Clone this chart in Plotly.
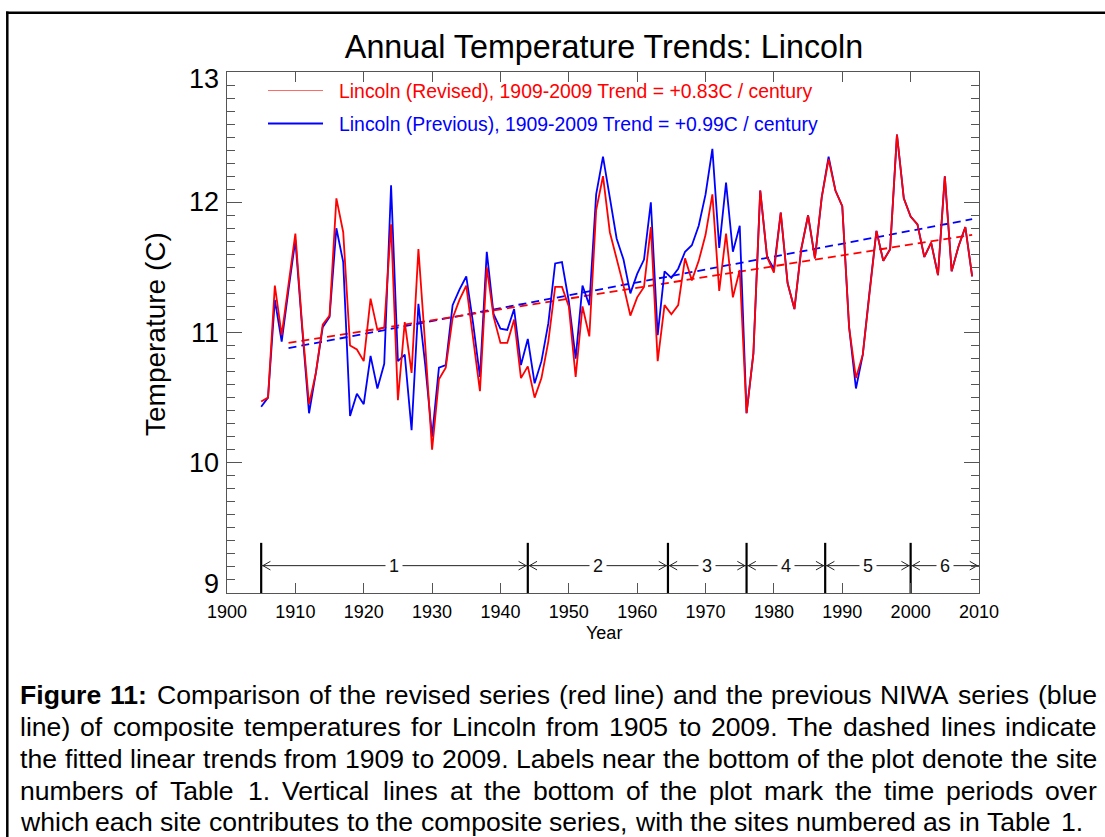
import plotly.graph_objects as go

# ---------------------------------------------------------------- data
years = list(range(1905, 2010))

revised = [
    10.47, 10.50, 11.36, 10.98, 11.37, 11.76, 11.05, 10.45, 10.69, 11.06,   # 1905-1914
    11.13, 12.03, 11.77, 10.90, 10.87, 10.78, 11.26, 11.02, 11.04, 11.83,   # 1915-1924
    10.48, 11.08, 10.69, 11.64, 10.90, 10.10, 10.64, 10.73, 11.11, 11.25,   # 1925-1934
    11.36, 10.97, 10.55, 11.50, 11.12, 10.92, 10.92, 11.10, 10.65, 10.74,   # 1935-1944
    10.50, 10.65, 10.93, 11.35, 11.35, 11.20, 10.66, 11.20, 10.97, 11.94,   # 1945-1954
    12.20, 11.77, 11.57, 11.36, 11.13, 11.27, 11.35, 11.81, 10.78, 11.21,   # 1955-1964
    11.14, 11.21, 11.57, 11.40, 11.55, 11.75, 12.06, 11.32, 11.76, 11.27,   # 1965-1974
    11.48, 10.38, 10.84, 12.09, 11.58, 11.46, 11.92, 11.38, 11.18, 11.64,   # 1975-1984
    11.90, 11.57, 12.04, 12.33, 12.09, 11.97, 11.04, 10.65, 10.83, 11.32,   # 1985-1994
    11.78, 11.55, 11.64, 12.52, 12.03, 11.89, 11.83, 11.58, 11.69, 11.44,   # 1995-2004
    12.20, 11.47, 11.66, 11.81, 11.43,                                      # 2005-2009
]

previous = [
    10.43, 10.50, 11.25, 10.93, 11.33, 11.71, 11.03, 10.38, 10.69, 11.04,   # 1905-1914
    11.12, 11.80, 11.54, 10.36, 10.53, 10.45, 10.82, 10.57, 10.76, 12.13,   # 1915-1924
    10.78, 10.83, 10.25, 11.22, 10.75, 10.20, 10.73, 10.75, 11.21, 11.33,   # 1925-1934
    11.43, 11.07, 10.66, 11.62, 11.14, 11.03, 11.02, 11.18, 10.75, 10.95,   # 1935-1944
    10.61, 10.78, 11.07, 11.53, 11.54, 11.24, 10.80, 11.36, 11.21, 12.06,   # 1945-1954
    12.35, 12.03, 11.72, 11.56, 11.30, 11.45, 11.56, 12.00, 10.98, 11.47,   # 1955-1964
    11.42, 11.49, 11.62, 11.67, 11.82, 12.06, 12.41, 11.65, 12.15, 11.62,   # 1965-1974
    11.82, 10.38, 10.84, 12.09, 11.58, 11.49, 11.92, 11.38, 11.18, 11.64,   # 1975-1984
    11.90, 11.57, 12.04, 12.35, 12.09, 11.97, 11.04, 10.57, 10.83, 11.32,   # 1985-1994
    11.78, 11.55, 11.64, 12.52, 12.03, 11.89, 11.83, 11.58, 11.69, 11.44,   # 1995-2004
    12.20, 11.47, 11.66, 11.81, 11.43,                                      # 2005-2009
]

series_names = ["Revised", "Previous"]
series_colors = ["#ff0000", "#0000ff"]
trend_years = [1909, 2009]
trend_slopes = [0.83, 0.99]          # degrees C per century
trend_at_start = [10.92, 10.88]      # fitted value in 1909

# site periods of the composite series
period_starts = [1905, 1944, 1964.5, 1976, 1987.5, 2000]
period_end = 2010
site_labels = ["1", "2", "3", "4", "5", "6"]

x_tick_vals = list(range(1900, 2011, 10))
y_tick_vals = [9, 10, 11, 12, 13]

caption_lines = [
    "Figure 11: Comparison of the revised series (red line) and the previous NIWA series (blue",
    "line) of composite temperatures for Lincoln from 1905 to 2009. The dashed lines indicate",
    "the fitted linear trends from 1909 to 2009. Labels near the bottom of the plot denote the site",
    "numbers of Table 1. Vertical lines at the bottom of the plot mark the time periods over",
    "which each site contributes to the composite series, with the sites numbered as in Table 1.",
]

# ---------------------------------------------------------------- geometry
FIG_W, FIG_H = 1105, 837
ML, MR, MT, MB = 227, 126, 72, 244
PW = FIG_W - ML - MR
PH = FIG_H - MT - MB
FONT = "Liberation Sans, Arial, Helvetica, sans-serif"
AXIS_COLOR = "#555555"


def px(x):
    return (x - ML) / PW


def py(y):
    return (FIG_H - MB - y) / PH


fig = go.Figure()

# fitted linear trends (dashed)
for name, color, slope, start in zip(series_names[::-1], series_colors[::-1],
                                     trend_slopes[::-1], trend_at_start[::-1]):
    ty = [start + slope * (yr - trend_years[0]) / 100.0 for yr in trend_years]
    fig.add_trace(go.Scatter(x=trend_years, y=ty, mode="lines",
                             line=dict(color=color, width=1.8, dash="8px,5px"),
                             showlegend=False, hoverinfo="skip"))

# annual series: previous underneath, revised on top
fig.add_trace(go.Scatter(x=years, y=previous, mode="lines",
                         line=dict(color=series_colors[1], width=1.8),
                         name=series_names[1], showlegend=False))
fig.add_trace(go.Scatter(x=years, y=revised, mode="lines",
                         line=dict(color=series_colors[0], width=1.8),
                         name=series_names[0], showlegend=False))

# site period markers along the bottom
bounds = period_starts + [period_end]
y_arrow = 9.21
y_bar_top = 9.385
dx, dy = 1.1, 0.033
gap_x = 0.25
vx, vy = [], []
for b in period_starts:
    vx += [b, b, None]
    vy += [9.0, y_bar_top, None]
fig.add_trace(go.Scatter(x=vx, y=vy, mode="lines",
                         line=dict(color="black", width=2.2),
                         showlegend=False, hoverinfo="skip"))

ax_, ay_ = [], []
for a, b in zip(bounds[:-1], bounds[1:]):
    ax_ += [a, b, None]
    ay_ += [y_arrow, y_arrow, None]
    ax_ += [a + gap_x + dx, a + gap_x, a + gap_x + dx, None]
    ay_ += [y_arrow + dy, y_arrow, y_arrow - dy, None]
    ax_ += [b - gap_x - dx, b - gap_x, b - gap_x - dx, None]
    ay_ += [y_arrow + dy, y_arrow, y_arrow - dy, None]
fig.add_trace(go.Scatter(x=ax_, y=ay_, mode="lines",
                         line=dict(color="#222222", width=1),
                         showlegend=False, hoverinfo="skip"))

annotations = []
for a, b, lab in zip(bounds[:-1], bounds[1:], site_labels):
    annotations.append(dict(x=(a + b) / 2, y=y_arrow, xref="x", yref="y",
                            xanchor="center", yanchor="middle",
                            text=lab, showarrow=False, bgcolor="white",
                            borderpad=3, font=dict(family=FONT, size=18, color="#111111")))

# y tick labels; the end labels sit just inside the axis range
for v in y_tick_vals:
    shift = -7 if v == y_tick_vals[-1] else (9 if v == y_tick_vals[0] else 0)
    annotations.append(dict(x=px(221), y=v, xref="paper", yref="y",
                            xanchor="right", yanchor="middle", yshift=shift,
                            text=str(v), showarrow=False,
                            font=dict(family=FONT, size=27, color="black")))

# legend: sample lines and texts
shapes = [
    dict(type="line", xref="paper", yref="paper", x0=px(268), x1=px(323),
         y0=py(90.5), y1=py(90.5), line=dict(color="#ff6a6a", width=1)),
    dict(type="line", xref="paper", yref="paper", x0=px(268), x1=px(323),
         y0=py(123.5), y1=py(123.5), line=dict(color=series_colors[1], width=2)),
    # page frame
    dict(type="line", xref="paper", yref="paper", x0=px(6), x1=px(1106),
         y0=py(12.7), y1=py(12.7), line=dict(color="black", width=2.5)),
    dict(type="line", xref="paper", yref="paper", x0=px(7.3), x1=px(7.3),
         y0=py(11.5), y1=py(840), line=dict(color="black", width=2.5)),
]
legend_y = [91, 124]
for name, color, slope, ly in zip(series_names, series_colors, trend_slopes, legend_y):
    annotations.append(dict(
        x=px(337), y=py(ly), xref="paper", yref="paper", xanchor="left", yanchor="middle",
        text=f"Lincoln ({name}), {trend_years[0]}-{trend_years[1]} Trend = +{slope:.2f}C / century",
        showarrow=False, font=dict(family=FONT, size=19.4, color=color)))

# axis titles
annotations.append(dict(x=px(155), y=py(334), xref="paper", yref="paper",
                        xanchor="center", yanchor="middle",
                        text="Temperature (C)", textangle=-90, showarrow=False,
                        font=dict(family=FONT, size=28, color="black")))
annotations.append(dict(x=px(604), y=py(633), xref="paper", yref="paper",
                        xanchor="center", yanchor="middle",
                        text="Year", showarrow=False,
                        font=dict(family=FONT, size=18, color="black")))

# justified caption, laid out word by word with Arial metrics
ARIAL = {' ': 278, '(': 333, ')': 333, ',': 278, '-': 333, '.': 278, ':': 278, '/': 278,
         'A': 667, 'B': 667, 'C': 722, 'D': 722, 'E': 667, 'F': 611, 'G': 778, 'H': 722,
         'I': 278, 'J': 500, 'K': 667, 'L': 556, 'M': 833, 'N': 722, 'O': 778, 'P': 667,
         'Q': 778, 'R': 722, 'S': 667, 'T': 611, 'U': 722, 'V': 667, 'W': 944, 'X': 667,
         'Y': 667, 'Z': 611, 'a': 556, 'b': 556, 'c': 500, 'd': 556, 'e': 556, 'f': 278,
         'g': 556, 'h': 556, 'i': 222, 'j': 222, 'k': 500, 'l': 222, 'm': 833, 'n': 556,
         'o': 556, 'p': 556, 'q': 556, 'r': 333, 's': 500, 't': 278, 'u': 556, 'v': 500,
         'w': 722, 'x': 500, 'y': 500, 'z': 500}
for d in "0123456789":
    ARIAL[d] = 556
ARIAL_BOLD = dict(ARIAL)
ARIAL_BOLD.update({'F': 611, 'i': 278, 'g': 611, 'u': 611, 'r': 389, 'e': 556, ':': 333})

CAP_FS = 26.6
CAP_LEFT, CAP_RIGHT = 20, 1097
cap_y = [695, 727, 759, 791, 822]


def word_width(w, bold):
    table = ARIAL_BOLD if bold else ARIAL
    return sum(table.get(c, 556) for c in w) * CAP_FS / 1000.0


for li, (line, yline) in enumerate(zip(caption_lines, cap_y)):
    words = line.split(" ")
    bold_flags = [li == 0 and wi < 2 for wi in range(len(words))]
    widths = [word_width(w, b) for w, b in zip(words, bold_flags)]
    last = li == len(caption_lines) - 1
    if last:
        gap = ARIAL[' '] * CAP_FS / 1000.0
    else:
        gap = (CAP_RIGHT - CAP_LEFT - sum(widths)) / (len(words) - 1)
    xcur = CAP_LEFT
    for w, b, ww in zip(words, bold_flags, widths):
        annotations.append(dict(
            x=px(xcur), y=py(yline), xref="paper", yref="paper",
            xanchor="left", yanchor="middle", showarrow=False,
            borderpad=0, borderwidth=0,
            text=f"<b>{w}</b>" if b else w,
            font=dict(family=FONT, size=CAP_FS, color="black")))
        xcur += ww + gap

fig.update_layout(
    width=FIG_W, height=FIG_H,
    margin=dict(l=ML, r=MR, t=MT, b=MB, pad=0),
    paper_bgcolor="white", plot_bgcolor="white",
    showlegend=False,
    title=dict(text="Annual Temperature Trends: Lincoln", x=px(604), xref="paper",
               xanchor="center", y=1 - 47 / FIG_H, yanchor="middle",
               font=dict(family=FONT, size=32.3, color="black")),
    xaxis=dict(range=[1900, 2010], tickvals=x_tick_vals,
               ticks="inside", ticklen=10, tickwidth=1, tickcolor=AXIS_COLOR,
               showline=True, linecolor=AXIS_COLOR, linewidth=1.3, mirror="ticks",
               showgrid=False, zeroline=False, ticklabelstandoff=2,
               tickfont=dict(family=FONT, size=18, color="black")),
    yaxis=dict(range=[9, 13], tickvals=y_tick_vals, showticklabels=False,
               ticks="inside", ticklen=15, tickwidth=1, tickcolor=AXIS_COLOR,
               minor=dict(dtick=0.1, tick0=9, ticks="inside", ticklen=8,
                          tickwidth=1, tickcolor=AXIS_COLOR),
               showline=True, linecolor=AXIS_COLOR, linewidth=1.3, mirror="ticks",
               showgrid=False, zeroline=False),
    annotations=annotations,
    shapes=shapes,
)

fig.write_html("out.html")
